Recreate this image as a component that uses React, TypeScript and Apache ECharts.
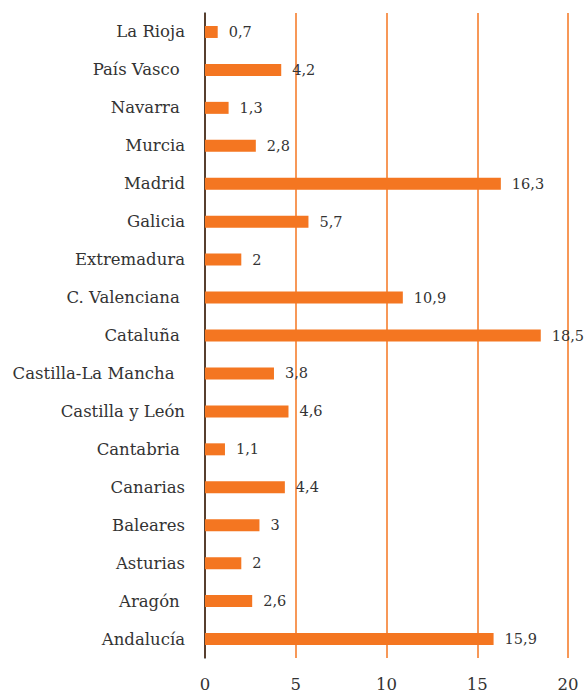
import React, { useEffect, useRef } from "react";
import * as echarts from "echarts";

const categories = [
  "Andalucía",
  "Aragón ",
  "Asturias",
  "Baleares",
  "Canarias",
  "Cantabria ",
  "Castilla y León",
  "Castilla-La Mancha  ",
  "Cataluña ",
  "C. Valenciana ",
  "Extremadura",
  "Galicia",
  "Madrid",
  "Murcia",
  "Navarra ",
  "País Vasco ",
  "La Rioja",
];
const values = [15.9, 2.6, 2, 3, 4.4, 1.1, 4.6, 3.8, 18.5, 10.9, 2, 5.7, 16.3, 2.8, 1.3, 4.2, 0.7];
const xTicks = [0, 5, 10, 15, 20];

const FONT = "DejaVu Serif";
const ORANGE = "#F47621";

export default function App() {
  const ref = useRef<HTMLDivElement>(null);
  useEffect(() => {
    const chart = echarts.init(ref.current!, undefined, { renderer: "svg" });
    chart.setOption({
      animation: false,
      grid: { left: 205, right: 18, top: 13, bottom: 32, containLabel: false },
      xAxis: {
        type: "value",
        min: xTicks[0],
        max: xTicks[xTicks.length - 1],
        interval: 5,
        axisLine: { show: false },
        axisTick: { show: false },
        splitLine: { show: true, lineStyle: { color: ORANGE, width: 1.5 } },
        axisLabel: { color: "#333", fontFamily: FONT, fontSize: 16.5, margin: 18 },
      },
      yAxis: {
        type: "category",
        data: categories,
        axisLine: { show: true, lineStyle: { color: "#222", width: 1.5 } },
        axisTick: { show: false },
        axisLabel: { color: "#333", fontFamily: FONT, fontSize: 16.5, margin: 20 },
      },
      series: [
        {
          type: "bar",
          data: values,
          barWidth: 12,
          itemStyle: { color: ORANGE },
          label: {
            show: true,
            position: "right",
            distance: 11,
            color: "#333",
            fontFamily: FONT,
            fontSize: 14.5,
            formatter: (p: any) => String(p.value).replace(".", ","),
          },
        },
      ],
    });
    return () => chart.dispose();
  }, []);
  return <div ref={ref} style={{ width: 586, height: 693, position: "absolute", left: 0, top: 0 }} />;
}
